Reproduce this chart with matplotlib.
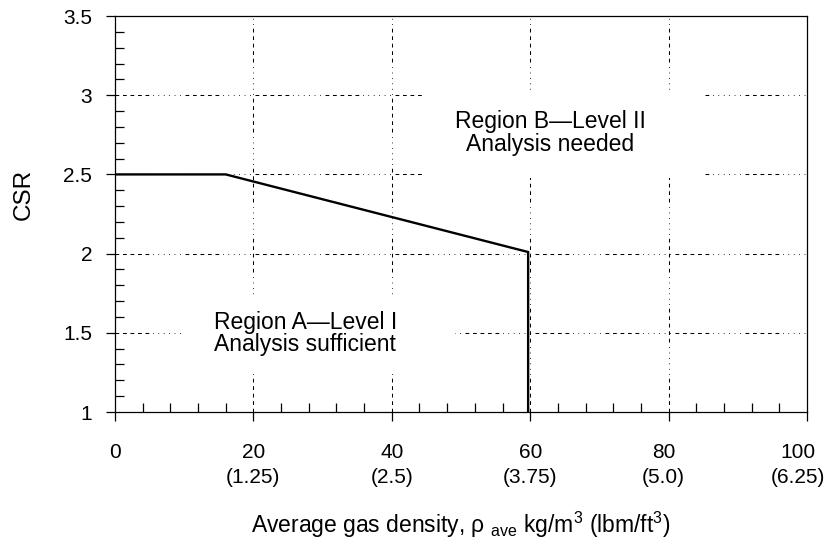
import matplotlib
matplotlib.use("Agg")
import matplotlib.pyplot as plt
import matplotlib.transforms as mtrans
from matplotlib.patches import Rectangle
from matplotlib.ticker import MultipleLocator

plt.rcParams['font.family'] = ['Liberation Sans', 'DejaVu Sans']
plt.rcParams['mathtext.fontset'] = 'custom'
plt.rcParams['mathtext.rm'] = 'Liberation Sans'
plt.rcParams['mathtext.it'] = 'Liberation Sans'
plt.rcParams['mathtext.default'] = 'regular'

# boundary curve between Level I and Level II
density = [0, 16, 59.7, 59.7]
csr = [2.5, 2.5, 2.01, 1.0]

x_ticks = [0, 20, 40, 60, 80, 100]
x_labels = ["0", "20\n(1.25)", "40\n(2.5)", "60\n(3.75)", "80\n(5.0)", "100\n(6.25)"]
y_ticks = [1, 1.5, 2, 2.5, 3, 3.5]
y_labels = ["1", "1.5", "2", "2.5", "3", "3.5"]
grid_x = [20, 40, 60, 80]
grid_y = [1.5, 2, 2.5, 3]

fig = plt.figure(figsize=(8.25, 5.39), dpi=100)
ax = fig.add_axes([0.1394, 0.2356, 0.8388, 0.7347])

# grid: runs of dashes then runs of dots
grid_dash = [3.6, 3.6] * 5 + [0.7, 4.5] * 6
for xv in grid_x:
    ax.plot([xv, xv], [1, 3.5], color="black", lw=0.75, dashes=grid_dash, zorder=1)
for yv in grid_y:
    ax.plot([0, 100], [yv, yv], color="black", lw=0.75, dashes=grid_dash, zorder=1)

# white areas behind the region labels
ax.add_patch(Rectangle((44.8, 2.48), 40.5, 0.55, facecolor="white", edgecolor="none", zorder=2))
ax.add_patch(Rectangle((10.1, 1.26), 39.0, 0.48, facecolor="white", edgecolor="none", zorder=2))

ax.plot(density, csr, color="black", lw=1.7, solid_joinstyle="miter", zorder=3)

ax.text(62.9, 2.76, "Region B\u2014Level II\nAnalysis needed", ha="center", va="center",
        fontsize=16.5, linespacing=0.98, zorder=4)
ax.text(27.5, 1.495, "Region A\u2014Level I\nAnalysis sufficient", ha="center", va="center",
        fontsize=16.5, linespacing=0.98, zorder=4)

ax.set_xlim(0, 100)
ax.set_ylim(1, 3.5)
ax.set_xticks(x_ticks)
ax.set_xticklabels(x_labels, linespacing=1.35)
ax.set_yticks(y_ticks)
ax.set_yticklabels(y_labels)
ax.xaxis.set_minor_locator(MultipleLocator(4))
ax.yaxis.set_minor_locator(MultipleLocator(0.1))

ax.tick_params(which="major", direction="out", length=6.5, width=0.9, labelsize=15)
ax.tick_params(axis="x", which="major", pad=16)
ax.tick_params(axis="y", which="major", pad=10)
ax.tick_params(which="minor", direction="in", length=6.5, width=0.9)
ax.tick_params(top=False, right=False, which="both")
for s in ax.spines.values():
    s.set_linewidth(0.9)

# last two labels sit a little left of their ticks
tl = ax.get_xticklabels()
tl[4].set_transform(tl[4].get_transform() + mtrans.ScaledTranslation(-5 / 100, 0, fig.dpi_scale_trans))
tl[5].set_transform(tl[5].get_transform() + mtrans.ScaledTranslation(-9 / 100, 0, fig.dpi_scale_trans))

ax.set_ylabel("CSR", fontsize=17.5)
ax.yaxis.set_label_coords(-0.1156, 0.55)
ax.set_xlabel(r"Average gas density, $\rho$ $_{ave}$ kg/m$^3$ (lbm/ft$^3$)", fontsize=16.5)
ax.xaxis.set_label_coords(0.5, -0.247)

fig.savefig("out.png", dpi=100)
